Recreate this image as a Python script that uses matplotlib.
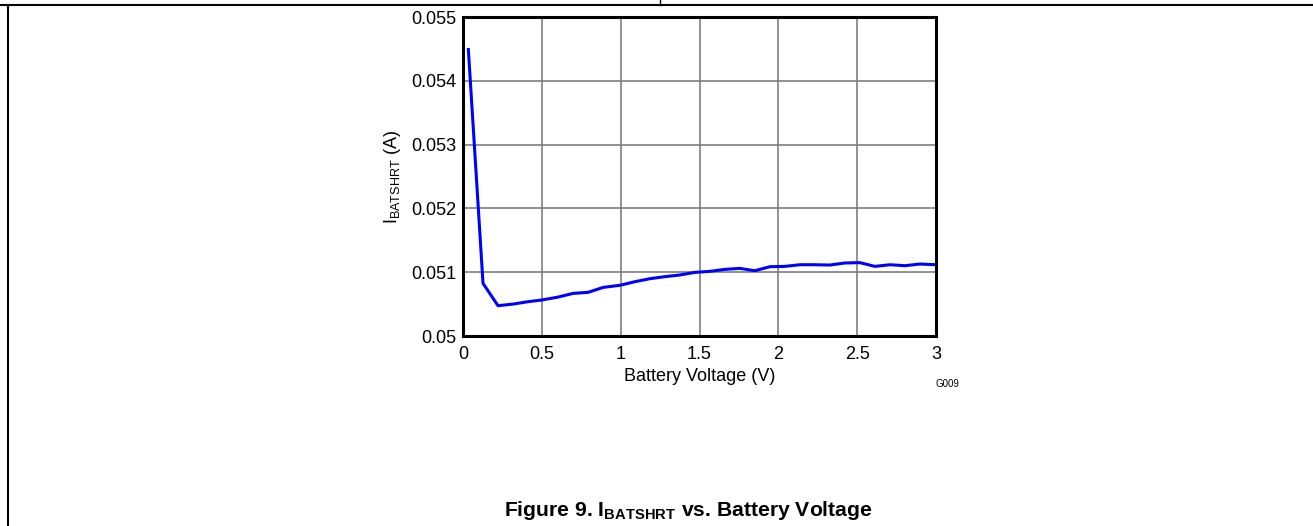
import matplotlib
matplotlib.use('Agg')
import matplotlib.pyplot as plt
from matplotlib.lines import Line2D

plt.rcParams['font.family'] = ['Liberation Sans', 'DejaVu Sans']
plt.rcParams['mathtext.fontset'] = 'custom'
plt.rcParams['mathtext.rm'] = 'Liberation Sans'
plt.rcParams['mathtext.bf'] = 'Liberation Sans:bold'

# Battery voltage (V) and short-circuit current (A)
voltage = [0.034, 0.127, 0.222, 0.317, 0.413, 0.5, 0.603, 0.698, 0.793, 0.889,
           0.994, 1.09, 1.185, 1.28, 1.375, 1.47, 1.565, 1.66, 1.756, 1.851,
           1.946, 2.04, 2.137, 2.23, 2.327, 2.42, 2.517, 2.612, 2.708, 2.803,
           2.898, 3.0]
current = [0.05449, 0.050825, 0.050475, 0.0505, 0.050538, 0.050564, 0.05061,
           0.050668, 0.050684, 0.050762, 0.050794, 0.050851, 0.050898, 0.05093,
           0.050956, 0.050997, 0.051013, 0.051044, 0.05106, 0.051023, 0.051086,
           0.051091, 0.051117, 0.051117, 0.051112, 0.051144, 0.05115, 0.051091,
           0.051117, 0.051102, 0.051128, 0.051117]

xticks = [0, 0.5, 1, 1.5, 2, 2.5, 3]
xtick_labels = ['0', '0.5', '1', '1.5', '2', '2.5', '3']
yticks = [0.05, 0.051, 0.052, 0.053, 0.054, 0.055]
ytick_labels = ['0.05', '0.051', '0.052', '0.053', '0.054', '0.055']

W, H = 1313, 526
fig = plt.figure(figsize=(W / 100, H / 100), dpi=100)
ax = fig.add_axes([463 / W, 1 - 336 / H, (936 - 463) / W, (336 - 17) / H])

ax.plot(voltage, current, color='#0000ff', lw=2.2, zorder=3)
ax.set_xlim(0, 3)
ax.set_ylim(0.05, 0.055)
ax.set_xticks(xticks)
ax.set_xticklabels(xtick_labels)
ax.set_yticks(yticks)
ax.set_yticklabels(ytick_labels)
ax.tick_params(length=0, labelsize=13)
ax.tick_params(axis='x', pad=7)
ax.tick_params(axis='y', pad=5)
ax.grid(color='#7f7f7f', lw=1.2)
for s in ax.spines.values():
    s.set_linewidth(2.2)
    s.set_zorder(4)

ax.set_xlabel('Battery Voltage (V)', fontsize=13, labelpad=4)
ax.set_ylabel(r'$\mathregular{I_{BATSHRT}}$ (A)', fontsize=13, labelpad=6)

fig.text(947 / W, 1 - 384 / H, 'G009', fontsize=7, ha='center', va='center')
fig.text(688 / W, 1 - 511 / H, r'Figure 9. $\mathbf{I_{BATSHRT}}$ vs. Battery Voltage',
         fontsize=15.2, fontweight='bold', ha='center', va='center')

# page frame lines
fig.add_artist(Line2D([0, 1], [1 - 5 / H, 1 - 5 / H], color='black', lw=1.5))
fig.add_artist(Line2D([7.5 / W, 7.5 / W], [0, 1 - 5 / H], color='black', lw=1.5))
fig.add_artist(Line2D([660 / W, 660 / W], [1 - 5 / H, 1], color='black', lw=1))

plt.savefig('out.png', dpi=100)
